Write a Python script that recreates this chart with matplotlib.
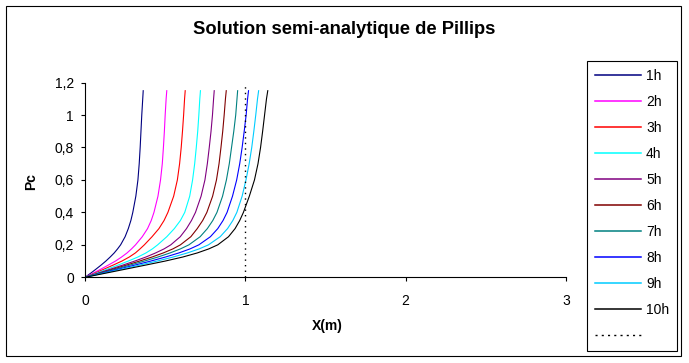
import matplotlib
matplotlib.use("Agg")
import matplotlib.pyplot as plt
from matplotlib.patches import Rectangle
from matplotlib.lines import Line2D

plt.rcParams["font.family"] = ["Liberation Sans", "DejaVu Sans"]

pc_levels = [0, 0.025, 0.05, 0.075, 0.1, 0.125, 0.15, 0.175, 0.2, 0.25, 0.3,
             0.35, 0.4, 0.5, 0.6, 0.7, 0.8, 0.9, 1.0, 1.1, 1.15]

# X (m) of each curve at the Pc levels above
x_1h = [0, 0.035, 0.068, 0.10, 0.13, 0.157, 0.182, 0.203, 0.222, 0.250, 0.270,
        0.286, 0.298, 0.317, 0.330, 0.338, 0.344, 0.349, 0.354, 0.360, 0.363]
x_2h = [0, 0.05, 0.098, 0.145, 0.19, 0.228, 0.262, 0.29, 0.315, 0.357, 0.39,
        0.413, 0.43, 0.455, 0.471, 0.482, 0.489, 0.495, 0.50, 0.506, 0.51]
x_3h = [0, 0.06, 0.118, 0.175, 0.23, 0.276, 0.314, 0.343, 0.37, 0.418, 0.461,
        0.493, 0.517, 0.553, 0.576, 0.590, 0.600, 0.608, 0.615, 0.621, 0.625]
x_4h = [0, 0.07, 0.138, 0.205, 0.27, 0.33, 0.38, 0.42, 0.453, 0.51, 0.557,
        0.595, 0.622, 0.653, 0.671, 0.684, 0.694, 0.703, 0.71, 0.716, 0.72]
x_5h = [0, 0.08, 0.158, 0.235, 0.31, 0.38, 0.44, 0.493, 0.535, 0.594, 0.633,
        0.664, 0.689, 0.724, 0.748, 0.763, 0.775, 0.786, 0.795, 0.802, 0.806]
x_6h = [0, 0.088, 0.174, 0.258, 0.34, 0.418, 0.488, 0.548, 0.595, 0.66, 0.70,
        0.734, 0.76, 0.796, 0.820, 0.836, 0.848, 0.859, 0.868, 0.876, 0.881]
x_7h = [0, 0.095, 0.188, 0.28, 0.37, 0.455, 0.53, 0.595, 0.648, 0.718, 0.763,
        0.797, 0.823, 0.858, 0.882, 0.900, 0.914, 0.928, 0.94, 0.948, 0.952]
x_8h = [0, 0.105, 0.208, 0.31, 0.41, 0.502, 0.585, 0.655, 0.71, 0.782, 0.828,
        0.861, 0.886, 0.920, 0.946, 0.965, 0.98, 0.993, 1.005, 1.014, 1.02]
x_9h = [0, 0.115, 0.228, 0.34, 0.45, 0.55, 0.638, 0.712, 0.77, 0.843, 0.889,
        0.922, 0.947, 0.98, 1.004, 1.024, 1.04, 1.053, 1.065, 1.076, 1.083]
x_10h = [0, 0.126, 0.252, 0.377, 0.50, 0.61, 0.70, 0.772, 0.828, 0.895, 0.936,
         0.965, 0.988, 1.025, 1.057, 1.079, 1.095, 1.108, 1.12, 1.132, 1.14]

labels = ["1h", "2h", "3h", "4h", "5h", "6h", "7h", "8h", "9h", "10h"]
colors = ["#000080", "#FF00FF", "#FF0000", "#00FFFF", "#800080",
          "#800000", "#008080", "#0000FF", "#00CCFF", "#000000"]

# vertical dotted marker at X = 1 m
marker_x = [1, 1]
marker_y = [0, 1.2]

x_ticks = [0, 1, 2, 3]
y_ticks = [0, 0.2, 0.4, 0.6, 0.8, 1.0, 1.2]
y_ticklabels = ["0", "0,2", "0,4", "0,6", "0,8", "1", "1,2"]

series = [x_1h, x_2h, x_3h, x_4h, x_5h, x_6h, x_7h, x_8h, x_9h, x_10h]

fig = plt.figure(figsize=(6.89, 3.63), dpi=100)
ax = fig.add_axes([0.1234, 0.2361, 0.698, 0.5364])

handles = []
for xs, lab, c in zip(series, labels, colors):
    ax.plot(xs, pc_levels, color=c, lw=0.8)
    handles.append(Line2D([], [], color=c, lw=1.1))
ax.plot(marker_x, marker_y, color="black", lw=1.0, ls=(0, (1, 3)))
handles.append(Line2D([], [], color="black", lw=1.0, ls=(0, (1.5, 3))))

ax.set_xlim(0, 3)
ax.set_ylim(0, 1.2)
ax.set_xticks(x_ticks)
ax.set_xticklabels([str(t) for t in x_ticks])
ax.set_yticks(y_ticks)
ax.set_yticklabels(y_ticklabels)
for s in ("top", "right"):
    ax.spines[s].set_visible(False)
for s in ("left", "bottom"):
    ax.spines[s].set_linewidth(0.8)
ax.tick_params(axis="both", direction="out", length=3, width=0.8, labelsize=10)
ax.tick_params(axis="y", pad=5)
ax.tick_params(axis="x", pad=9)

ax.set_ylabel("Pc", fontsize=10, fontweight="bold")
ax.yaxis.set_label_coords(-0.098, 0.49)
ax.set_xlabel("X(m)", fontsize=10, fontweight="bold")
ax.xaxis.set_label_coords(0.503, -0.215)

fig.text(0.50, 0.920, "Solution semi-analytique de Pillips",
         ha="center", va="center", fontsize=13.2, fontweight="bold")

leg = fig.legend(handles, labels + [""], loc="upper left",
                 bbox_to_anchor=(587 / 689, 1 - 61 / 363), borderaxespad=0,
                 fontsize=10, handlelength=3.3, labelspacing=0.86,
                 borderpad=0.6, handletextpad=0.35, fancybox=False,
                 edgecolor="black", framealpha=1)
leg.get_frame().set_linewidth(0.8)

# outer chart border
fig.patches.append(Rectangle((0.0087, 0.0193), 0.9797, 0.964,
                             transform=fig.transFigure, fill=False,
                             edgecolor="black", lw=0.8))

fig.savefig("out.png", dpi=100)
